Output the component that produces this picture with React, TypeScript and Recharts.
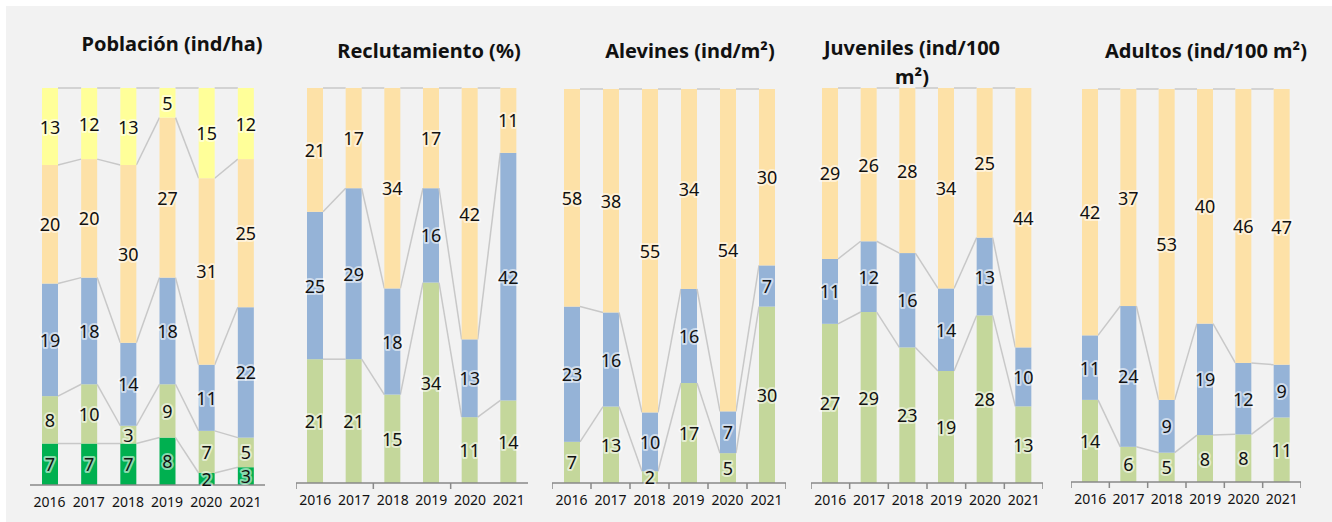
import { Bar, BarChart, LabelList, XAxis, YAxis } from "recharts";

const years = ["2016", "2017", "2018", "2019", "2020", "2021"];

const poblacionVerdeOscuro = [7, 7, 7, 8, 2, 3];
const poblacionVerde = [8, 10, 3, 9, 7, 5];
const poblacionAzul = [19, 18, 14, 18, 11, 22];
const poblacionNaranja = [20, 20, 30, 27, 31, 25];
const poblacionAmarillo = [13, 12, 13, 5, 15, 12];

const reclutamientoVerde = [21, 21, 15, 34, 11, 14];
const reclutamientoAzul = [25, 29, 18, 16, 13, 42];
const reclutamientoNaranja = [21, 17, 34, 17, 42, 11];

const alevinesVerde = [7, 13, 2, 17, 5, 30];
const alevinesAzul = [23, 16, 10, 16, 7, 7];
// bar heights in the picture vs. the label printed on them (2016 says 58, bar is ~37)
const alevinesNaranja = [37, 38, 55, 34, 54, 30];
const alevinesNaranjaEtiqueta = [58, 38, 55, 34, 54, 30];

const juvenilesVerde = [27, 29, 23, 19, 28, 13];
const juvenilesAzul = [11, 12, 16, 14, 13, 10];
const juvenilesNaranja = [29, 26, 28, 34, 25, 44];

const adultosVerde = [14, 6, 5, 8, 8, 11];
const adultosAzul = [11, 24, 9, 19, 12, 9];
const adultosNaranja = [42, 37, 53, 40, 46, 47];

const C = {
  verdeOscuro: "#00b050",
  verde: "#c4d79b",
  azul: "#95b3d7",
  naranja: "#fde1a7",
  amarillo: "#ffff99",
};

const FONT = "'Noto Sans', sans-serif";
const AXIS = "#898989";
const SERIES_LINE = "#c8c8c8";

type Serie = { values: number[]; labels?: number[]; color: string };
type PanelSpec = {
  left: number;
  right: number;
  top: number;
  bottom: number;
  tickEvery: number;
  series: Serie[];
};

const sum = (a: number[]) => a.reduce((s, v) => s + v, 0);

// bar segment + gray series line to the same segment of the next bar
const makeShape = (rows: number[][], k: number, band: number) => (props: any) => {
  const { x, y, width, height, index, fill } = props;
  const row = rows[index];
  const tot = sum(row);
  const cb = sum(row.slice(0, k)) / tot;
  const ct = sum(row.slice(0, k + 1)) / tot;
  const H = height / (ct - cb);
  const y0 = y + height + cb * H;
  let line = null;
  if (index < rows.length - 1) {
    const nr = rows[index + 1];
    const nct = sum(nr.slice(0, k + 1)) / sum(nr);
    line = (
      <line
        x1={x + width}
        y1={y}
        x2={x + band}
        y2={y0 - nct * H}
        stroke={SERIES_LINE}
        strokeWidth={1.5}
      />
    );
  }
  return (
    <g>
      <rect x={x} y={y} width={width} height={height} fill={fill} />
      {line}
    </g>
  );
};

const renderLabel = (props: any) => {
  const { x, y, width, height, value } = props;
  return (
    <text
      x={x + width / 2}
      y={y + height / 2}
      textAnchor="middle"
      dominantBaseline="central"
      fontFamily={FONT}
      fontSize={18}
      fill="#111"
      stroke="#ffffff"
      strokeOpacity={0.55}
      strokeWidth={4}
      strokeLinejoin="round"
      paintOrder="stroke"
    >
      {value}
    </text>
  );
};

const makeTick = (band: number, every: number, n: number) => (props: any) => {
  const { x, y, payload, index } = props;
  const axisY = y - 8;
  return (
    <g>
      {every > 0 && index % every === 0 && (
        <line x1={x - band / 2} x2={x - band / 2} y1={axisY} y2={axisY + 6} stroke={AXIS} strokeWidth={1.5} />
      )}
      {every === 1 && index === n - 1 && (
        <line x1={x + band / 2} x2={x + band / 2} y1={axisY} y2={axisY + 6} stroke={AXIS} strokeWidth={1.5} />
      )}
      <text x={x} y={axisY + 22} textAnchor="middle" fontFamily={FONT} fontSize={14} fill="#111">
        {payload.value}
      </text>
    </g>
  );
};

function Panel({ spec }: { spec: PanelSpec }) {
  const { left, right, top, bottom, series, tickEvery } = spec;
  const MT = 2;
  const MB = 34;
  const width = right - left;
  const height = bottom - top;
  const band = width / years.length;
  const data = years.map((yr, i) => {
    const row: any = { year: yr };
    series.forEach((s, k) => {
      row[`s${k}`] = s.values[i];
      row[`l${k}`] = (s.labels ?? s.values)[i];
    });
    return row;
  });
  const rows = years.map((_, i) => series.map((s) => s.values[i]));
  return (
    <div style={{ position: "absolute", left, top: top - MT }}>
      <BarChart
        width={width}
        height={height + MT + MB}
        data={data}
        stackOffset="expand"
        barSize={16}
        margin={{ top: MT, right: 0, bottom: 0, left: 0 }}
      >
        <XAxis
          dataKey="year"
          height={MB}
          tickSize={6}
          tickMargin={2}
          tickLine={false}
          axisLine={{ stroke: AXIS, strokeWidth: 1.5 }}
          interval={0}
          tick={makeTick(band, tickEvery, years.length)}
        />
        <YAxis hide domain={[0, 1]} />
        {series.map((s, k) => (
          <Bar
            key={k}
            dataKey={`s${k}`}
            stackId="a"
            fill={s.color}
            isAnimationActive={false}
            shape={makeShape(rows, k, band)}
          >
            <LabelList dataKey={`l${k}`} content={renderLabel} />
          </Bar>
        ))}
      </BarChart>
    </div>
  );
}

const panels: PanelSpec[] = [
  {
    left: 30, right: 265, top: 88, bottom: 485, tickEvery: 0,
    series: [
      { values: poblacionVerdeOscuro, color: C.verdeOscuro },
      { values: poblacionVerde, color: C.verde },
      { values: poblacionAzul, color: C.azul },
      { values: poblacionNaranja, color: C.naranja },
      { values: poblacionAmarillo, color: C.amarillo },
    ],
  },
  {
    left: 296, right: 528, top: 88, bottom: 483, tickEvery: 2,
    series: [
      { values: reclutamientoVerde, color: C.verde },
      { values: reclutamientoAzul, color: C.azul },
      { values: reclutamientoNaranja, color: C.naranja },
    ],
  },
  {
    left: 552, right: 786, top: 89, bottom: 483, tickEvery: 1,
    series: [
      { values: alevinesVerde, color: C.verde },
      { values: alevinesAzul, color: C.azul },
      { values: alevinesNaranja, labels: alevinesNaranjaEtiqueta, color: C.naranja },
    ],
  },
  {
    left: 811, right: 1043, top: 88, bottom: 483, tickEvery: 1,
    series: [
      { values: juvenilesVerde, color: C.verde },
      { values: juvenilesAzul, color: C.azul },
      { values: juvenilesNaranja, color: C.naranja },
    ],
  },
  {
    left: 1071, right: 1301, top: 89, bottom: 482, tickEvery: 1,
    series: [
      { values: adultosVerde, color: C.verde },
      { values: adultosAzul, color: C.azul },
      { values: adultosNaranja, color: C.naranja },
    ],
  },
];

const titles = [
  { text: "Población (ind/ha)", cx: 172, top: 32 },
  { text: "Reclutamiento (%)", cx: 429, top: 38.5 },
  { text: "Alevines (ind/m²)", cx: 690, top: 38.5 },
  { text: "Juveniles (ind/100\nm²)", cx: 912, top: 33 },
  { text: "Adultos (ind/100 m²)", cx: 1206, top: 38.5 },
];

export default function App() {
  return (
    <div style={{ position: "absolute", left: 0, top: 0, width: 1332, height: 522, background: "#ffffff", overflow: "hidden" }}>
      <div style={{ position: "absolute", left: 6, top: 6, right: 0, bottom: 0, background: "#f2f2f2" }} />
      {titles.map((t) => (
        <div
          key={t.text}
          style={{
            position: "absolute",
            left: t.cx - 150,
            top: t.top,
            width: 300,
            textAlign: "center",
            fontFamily: FONT,
            fontWeight: 700,
            fontSize: 20,
            lineHeight: t.text.includes("\n") ? "29px" : "24px",
            whiteSpace: "pre",
            color: "#111",
          }}
        >
          {t.text}
        </div>
      ))}
      {panels.map((p, i) => (
        <Panel key={i} spec={p} />
      ))}
    </div>
  );
}
